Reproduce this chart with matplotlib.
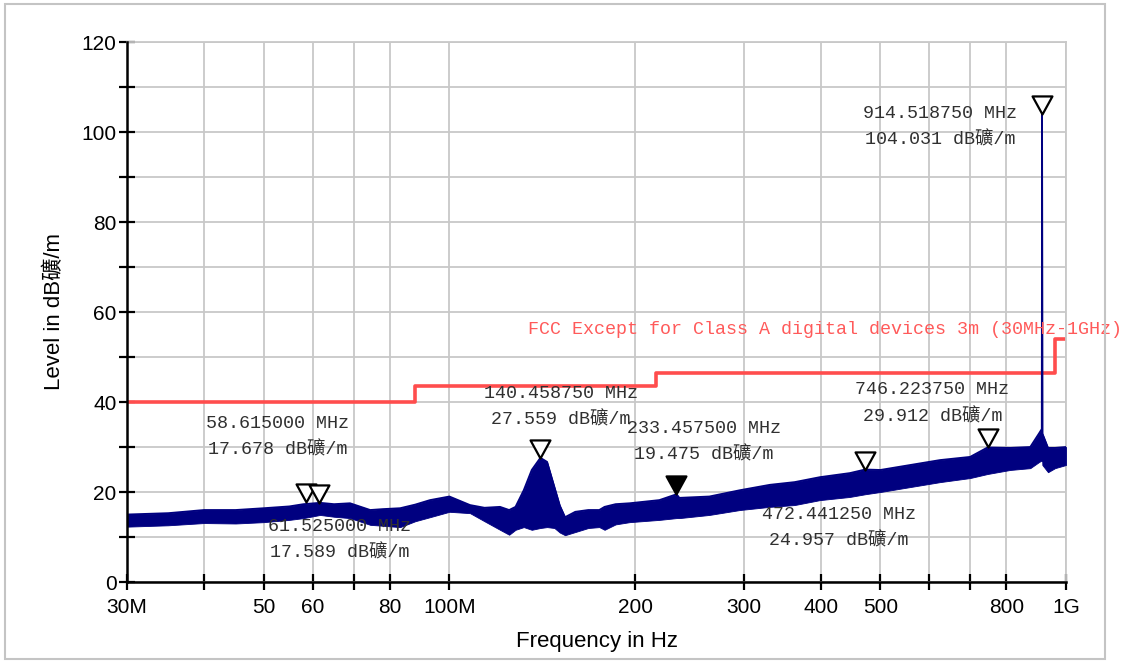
import matplotlib
matplotlib.use("Agg")
import matplotlib.pyplot as plt
from matplotlib.path import Path
from matplotlib.patches import Rectangle
from matplotlib.ticker import FixedLocator, FixedFormatter, NullLocator

# --- trace envelope (MHz, dB) ---
freq = [30, 35, 40, 45, 50, 55, 58, 61.7, 65, 69, 74.4, 78, 83.2, 88, 93, 100,
        108, 114, 120.8, 125, 128, 132, 136, 140.46, 144, 148, 151, 154, 160,
        168, 175, 178.5, 186, 196, 219, 233.5, 236, 264, 296, 331, 363, 399,
        446, 472.4, 500, 559, 625, 699, 746, 812, 875, 905, 913.5, 914.5,
        915.5, 935, 960, 1000]
level_lo = [12.3, 12.6, 13.1, 13.0, 13.3, 13.8, 14.2, 14.9, 14.5, 14.2, 12.7,
            12.5, 12.2, 13.5, 14.4, 15.6, 15.3, 13.5, 11.6, 10.5, 11.6, 12.2,
            11.6, 12.0, 12.2, 12.0, 11.0, 10.4, 11.1, 12.0, 12.2, 11.6, 12.8,
            13.3, 13.8, 14.2, 14.2, 14.9, 16.0, 16.7, 17.1, 18.2, 18.9, 19.5,
            20.0, 21.1, 22.2, 23.1, 24.0, 24.9, 25.3, 26.7, 27.0, 28.0, 26.0,
            24.4, 25.3, 26.0]
level_hi = [15.0, 15.3, 16.0, 16.0, 16.4, 16.8, 17.3, 17.6, 17.3, 17.5, 16.0,
            16.2, 16.4, 17.2, 18.2, 19.0, 17.1, 16.5, 16.7, 16.0, 16.7, 20.4,
            24.9, 27.6, 26.7, 21.1, 17.0, 14.4, 15.6, 16.0, 16.0, 16.7, 17.3,
            17.5, 18.2, 19.5, 18.7, 19.0, 20.4, 21.6, 22.2, 23.3, 24.2, 25.0,
            24.9, 26.0, 27.1, 27.8, 29.9, 29.8, 30.0, 33.1, 34.0, 104.03, 33.0,
            29.8, 29.8, 30.0]

# --- limit line (FCC Class A, 3 m) ---
limit_f = [30, 88, 88, 216, 216, 960, 960, 1000]
limit_db = [40, 40, 43.5, 43.5, 46.4, 46.4, 53.9, 53.9]
limit_name = "FCC Except for Class A digital devices 3m (30MHz-1GHz)"

# --- markers ---
mk_f = [58.615, 61.525, 140.45875, 233.4575, 472.44125, 746.22375, 914.51875]
mk_db = [17.678, 17.589, 27.559, 19.475, 24.957, 29.912, 104.031]
mk_filled = [False, False, False, True, False, False, False]
mk_text = ["58.615000 MHz\n17.678 dB礦/m", "61.525000 MHz\n17.589 dB礦/m",
           "140.458750 MHz\n27.559 dB礦/m", "233.457500 MHz\n19.475 dB礦/m",
           "472.441250 MHz\n24.957 dB礦/m", "746.223750 MHz\n29.912 dB礦/m",
           "914.518750 MHz\n104.031 dB礦/m"]
# label centres (MHz, dB)
lab_f = [52.7, 66.4, 151.5, 258.5, 428, 607, 624]
lab_db = [32.3, 9.4, 39.0, 31.2, 12.1, 39.7, 101.2]

xticks = [30, 40, 50, 60, 70, 80, 100, 200, 300, 400, 500, 600, 700, 800, 1000]
xticklabels = ["30M", "", "50", "60", "", "80", "100M", "200", "300", "400",
               "500", "", "", "800", "1G"]

W, H = 1127, 663
fig = plt.figure(figsize=(W / 100, H / 100), dpi=100)
ax = fig.add_axes([127 / W, 1 - 582 / H, (1066 - 127) / W, (582 - 42) / H])
fig.patches.append(Rectangle((5 / W, 4 / H), 1100 / W, 655 / H,
                             transform=fig.transFigure, fill=False,
                             ec="#c4c4c4", lw=1.5))

navy = "#000080"
ax.fill_between(freq, level_lo, level_hi, color=navy, lw=0.6, ec=navy, zorder=3)
ax.plot(freq, level_hi, color=navy, lw=1.3, zorder=3)
ax.plot(limit_f, limit_db, color="#ff4d4d", lw=2.6, zorder=2)

tri = Path([(0, 0), (-0.55, 1), (0.55, 1), (0, 0)],
           [Path.MOVETO, Path.LINETO, Path.LINETO, Path.CLOSEPOLY])
ann_font = ["Liberation Mono", "Noto Sans CJK SC"]
for f, v, filled, t, lx, ly in zip(mk_f, mk_db, mk_filled, mk_text, lab_f, lab_db):
    ax.plot([f], [v], marker=tri, ms=26, mew=1.6, mec="black",
            mfc="black" if filled else "white", zorder=5, clip_on=False)
    ax.text(lx, ly, t, ha="center", va="center", fontsize=13.2,
            family=ann_font, color="#303030", linespacing=1.7, zorder=6)

ax.text(134, 56.2, limit_name, ha="left", va="center", fontsize=13.2,
        family=ann_font, color="#ff5a5a", clip_on=False, zorder=6)

ax.set_xscale("log")
ax.set_xlim(30, 1000)
ax.set_ylim(0, 120)
ax.xaxis.set_major_locator(FixedLocator(xticks))
ax.xaxis.set_major_formatter(FixedFormatter(xticklabels))
ax.xaxis.set_minor_locator(NullLocator())
ax.set_yticks(range(0, 121, 20))
ax.set_yticks(range(10, 120, 20), minor=True)
ax.grid(True, which="both", color="#c8c8c8", lw=1.3, zorder=0)
ax.set_axisbelow(True)

for s in ["top", "right"]:
    ax.spines[s].set_color("#c8c8c8")
    ax.spines[s].set_linewidth(1.3)
for s in ["left", "bottom"]:
    ax.spines[s].set_linewidth(1.8)
    ax.spines[s].set_zorder(4)

lab_font = ["Liberation Sans", "Noto Sans CJK SC"]
ax.tick_params(which="both", direction="inout", length=11, width=1.6,
               labelsize=15, labelfontfamily="Liberation Sans")
ax.tick_params(axis="x", pad=6)
ax.tick_params(axis="y", pad=2)
ax.set_xlabel("Frequency in Hz", fontsize=16, family=lab_font, labelpad=10)
ax.set_ylabel("Level in dB礦/m", fontsize=16, family=lab_font, labelpad=12)

fig.savefig("out.png", dpi=100)
